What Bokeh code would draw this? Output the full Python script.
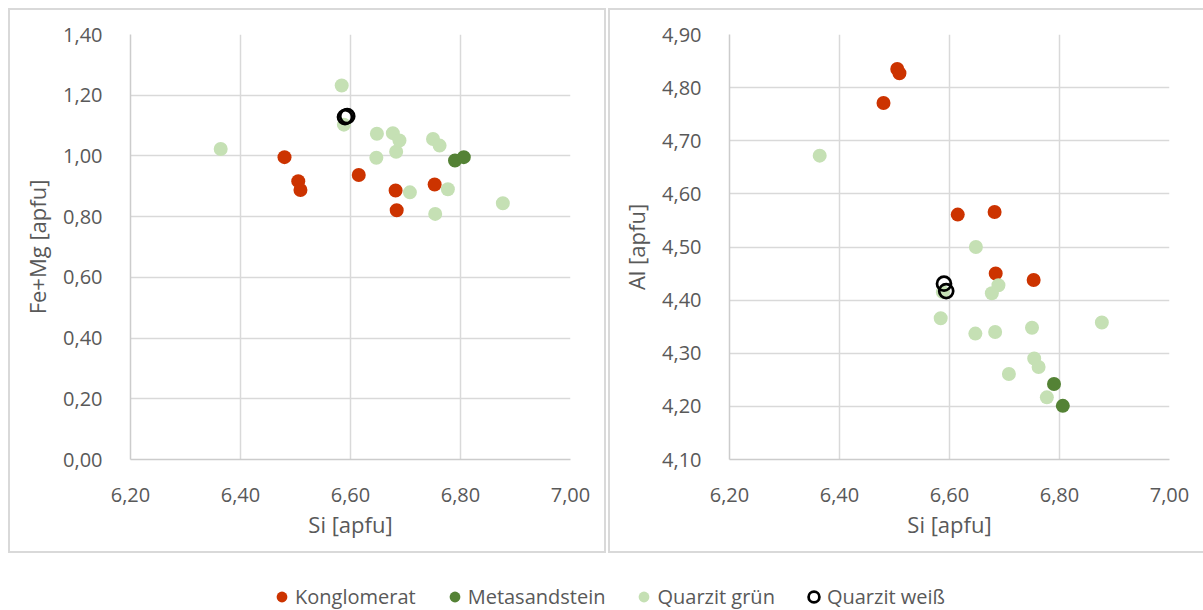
from bokeh.plotting import figure
from bokeh.layouts import row, column
from bokeh.models import Range1d, FixedTicker, CustomJSTickFormatter, Legend, LegendItem
from bokeh.embed import file_html
from bokeh.resources import INLINE

# ---------------- data ----------------
series_names = ["Konglomerat", "Metasandstein", "Quarzit grün", "Quarzit weiß"]

kong_si = [6.480, 6.505, 6.509, 6.615, 6.682, 6.684, 6.753]
kong_femg = [0.996, 0.917, 0.888, 0.937, 0.886, 0.821, 0.906]
kong_al = [4.771, 4.835, 4.827, 4.561, 4.566, 4.450, 4.438]

meta_si = [6.790, 6.806]
meta_femg = [0.985, 0.996]
meta_al = [4.242, 4.201]

qg_si = [6.364, 6.584, 6.588, 6.648, 6.647, 6.677, 6.683, 6.689, 6.708, 6.750, 6.754, 6.762, 6.777, 6.877]
qg_femg = [1.023, 1.232, 1.103, 1.073, 0.994, 1.075, 1.014, 1.051, 0.880, 1.056, 0.809, 1.034, 0.890, 0.844]
qg_al = [4.672, 4.366, 4.415, 4.500, 4.337, 4.413, 4.340, 4.428, 4.261, 4.348, 4.290, 4.274, 4.217, 4.358]

qw_si = [6.590, 6.594]
qw_femg = [1.128, 1.131]
qw_al = [4.431, 4.417]

x_ticks = [6.2, 6.4, 6.6, 6.8, 7.0]
femg_ticks = [0.0, 0.2, 0.4, 0.6, 0.8, 1.0, 1.2, 1.4]
al_ticks = [4.1, 4.2, 4.3, 4.4, 4.5, 4.6, 4.7, 4.8, 4.9]

x_title = "Si [apfu]"
y_title_left = "Fe+Mg [apfu]"
y_title_right = "Al [apfu]"

# ---------------- styles ----------------
FONT = "Open Sans"
TXT = "#595959"
GRID = "#d9d9d9"
BOX = "#d9d9d9"

styles = [
    dict(fill_color="#cc3300", line_color=None),
    dict(fill_color="#548235", line_color=None),
    dict(fill_color="#c5e0b4", line_color=None),
    dict(fill_color=None, line_color="#000000", line_width=2.75),
]

fmt = CustomJSTickFormatter(code="return tick.toFixed(2).replace('.', ',');")


def make_fig(width, mbl, mbr, yr, yticks, ytitle, shadow):
    p = figure(width=width, height=545, x_range=Range1d(6.2, 7.0), y_range=Range1d(*yr),
               output_backend="svg", toolbar_location=None,
               min_border_left=mbl, min_border_right=mbr,
               min_border_top=26, min_border_bottom=94)
    p.border_fill_color = None
    p.background_fill_color = "white"
    p.outline_line_color = None
    p.xaxis.ticker = FixedTicker(ticks=x_ticks)
    p.yaxis.ticker = FixedTicker(ticks=yticks)
    p.xgrid.ticker = FixedTicker(ticks=x_ticks)
    p.ygrid.ticker = FixedTicker(ticks=yticks)
    for ax in (p.xaxis[0], p.yaxis[0]):
        ax.formatter = fmt
        ax.major_tick_line_color = None
        ax.minor_tick_line_color = None
        ax.axis_line_color = "#cccccc"
        ax.axis_line_width = 1.5
        ax.major_label_text_font = FONT
        ax.major_label_text_font_size = "20px"
        ax.major_label_text_color = TXT
        ax.major_label_standoff = 22
        ax.axis_label_text_font = FONT
        ax.axis_label_text_font_size = "22px"
        ax.axis_label_text_font_style = "normal"
        ax.axis_label_text_color = TXT
    p.xaxis.axis_label = x_title
    p.yaxis.axis_label = ytitle
    p.xaxis.axis_label_standoff = 4
    p.yaxis.axis_label_standoff = 8
    p.grid.grid_line_color = GRID
    p.grid.grid_line_width = 1.5
    p.styles = {"box-shadow": shadow}
    return p


shadow_full = f"inset 0 0 0 2px {BOX}"
shadow_open = f"inset 2px 0 0 {BOX}, inset 0 2px 0 {BOX}, inset 0 -2px 0 {BOX}"

p1 = make_fig(598, 122, 36, (0.0, 1.4), femg_ticks, y_title_left, shadow_full)
p2 = make_fig(595, 121, 34, (4.1, 4.9), al_ticks, y_title_right, shadow_open)

xs = [kong_si, meta_si, qg_si, qw_si]
y1 = [kong_femg, meta_femg, qg_femg, qw_femg]
y2 = [kong_al, meta_al, qg_al, qw_al]

for i in range(4):
    p1.scatter(x=xs[i], y=y1[i], size=14, **styles[i])
    p2.scatter(x=xs[i], y=y2[i], size=14, **styles[i])

# legend figure: series drawn outside its (0..1) view so only the legend glyphs show
pl = figure(width=1203, height=57, x_range=Range1d(0, 1), y_range=Range1d(0, 1),
            output_backend="svg", toolbar_location=None,
            x_axis_location=None, y_axis_location=None,
            min_border_left=0, min_border_right=0, min_border_top=0, min_border_bottom=0)
pl.outline_line_color = None
pl.grid.visible = False
pl.background_fill_color = "white"
pl.border_fill_color = "white"
items = []
for i, name in enumerate(series_names):
    r = pl.scatter(x=xs[i], y=y1[i], size=14, **styles[i])
    items.append(LegendItem(label=name, renderers=[r]))
leg = Legend(items=items, orientation="horizontal", location=(268, 0),
             glyph_width=27, glyph_height=27, label_standoff=0, spacing=25,
             padding=0, margin=0, label_height=27, label_width=0,
             label_text_font=FONT, label_text_font_size="20px", label_text_color=TXT,
             border_line_color=None, background_fill_alpha=0)
pl.add_layout(leg)

p1.margin = (8, 0, 0, 8)
p2.margin = (8, 0, 0, 2)
layout = column(row(p1, p2), pl)

open("out.html", "w").write(file_html(layout, INLINE))
